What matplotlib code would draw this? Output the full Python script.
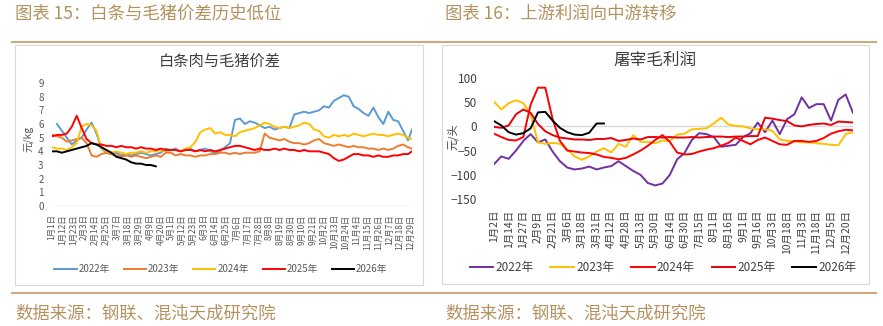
import numpy as np
import matplotlib.pyplot as plt
from matplotlib.patches import Rectangle
from matplotlib.lines import Line2D

plt.rcParams['font.family'] = ['Noto Sans CJK SC', 'DejaVu Sans']

# ---------- left chart: 白条肉与毛猪价差 (daily, sampled every 5 days) ----------
days = np.r_[np.arange(0, 365, 5), 364]

spread_2022 = [np.nan, 6.0, 5.5, 5.0, 4.5, 4.8, 5.0, 5.6, 6.1, 5.3,
               4.2, 3.9, 3.8, 3.9, 3.7, 3.8, 3.7, 3.8, 3.9, 3.8,
               3.7, 3.8, 3.9, 4.2, 4.1, 4.2, 4.0, 4.1, 4.2, 4.0,
               4.1, 4.2, 4.0, 3.9, 4.0, 4.3, 4.6, 6.3, 6.4, 6.0,
               6.2, 6.1, 5.9, 5.7, 5.8, 5.6, 5.7, 5.8, 5.7, 6.7,
               6.8, 6.9, 6.8, 6.9, 7.0, 7.3, 7.2, 7.7, 7.9, 8.1,
               8.0, 7.3, 7.1, 6.8, 6.6, 7.2, 6.5, 6.0, 6.9, 6.3,
               6.2, 5.5, 4.8, 5.6]
spread_2023 = [5.2, 5.1, 5.0, 4.7, 4.8, 4.9, 5.0, 4.6, 3.7, 3.6,
               3.8, 3.9, 3.8, 3.7, 3.6, 3.7, 3.6, 3.7, 3.6, 3.5,
               3.6, 3.7, 3.6, 3.9, 3.9, 3.7, 3.8, 3.7, 3.7, 3.6,
               3.7, 3.7, 3.8, 3.8, 3.9, 3.9, 3.8, 3.9, 3.8, 3.9,
               3.9, 3.9, 4.0, 5.3, 5.0, 4.9, 4.8, 4.9, 4.7, 4.6,
               4.6, 4.5, 4.6, 4.8, 4.9, 4.6, 4.5, 4.4, 4.5, 4.4,
               4.3, 4.4, 4.3, 4.3, 4.2, 4.2, 4.1, 4.2, 4.1, 4.2,
               4.4, 4.5, 4.3, 4.2]
spread_2024 = [4.3, 4.2, 4.2, 4.1, 4.3, 4.6, 5.8, 6.0, 5.9, 5.5,
               4.2, 4.0, 3.9, 4.0, 3.9, 3.8, 3.9, 3.9, 4.0, 3.9,
               4.0, 4.0, 4.1, 4.0, 4.1, 4.1, 4.0, 4.2, 4.3, 4.7,
               5.4, 5.6, 5.7, 5.3, 5.4, 5.2, 5.2, 5.1, 5.4, 5.5,
               5.6, 5.7, 5.9, 6.1, 6.0, 5.8, 5.7, 5.8, 5.7, 5.8,
               5.9, 6.1, 6.0, 5.6, 5.5, 5.1, 5.0, 5.2, 5.1, 5.2,
               5.1, 5.3, 5.2, 5.1, 5.2, 5.3, 5.2, 5.2, 5.1, 5.2,
               5.3, 5.2, 5.0, 4.9]
spread_2025 = [5.1, 5.2, 5.2, 5.3, 5.8, 6.6, 5.7, 4.9, 4.6, 4.5,
               4.5, 4.4, 4.4, 4.3, 4.4, 4.3, 4.3, 4.2, 4.3, 4.2,
               4.2, 4.1, 4.2, 4.1, 4.1, 4.1, 4.0, 4.1, 4.1, 4.0,
               4.1, 4.0, 4.1, 4.0, 4.1, 4.2, 4.3, 4.4, 4.4, 4.3,
               4.2, 4.1, 4.2, 4.1, 4.1, 4.2, 4.1, 4.2, 4.1, 4.1,
               4.0, 4.1, 4.0, 4.0, 4.0, 3.9, 3.8, 3.5, 3.3, 3.4,
               3.6, 3.8, 3.8, 3.7, 3.7, 3.6, 3.7, 3.6, 3.6, 3.7,
               3.7, 3.8, 3.8, 4.0]
spread_2026 = [4.0, 4.0, 3.9, 4.0, 4.1, 4.2, 4.3, 4.4, 4.6, 4.5,
               4.3, 4.1, 3.9, 3.6, 3.5, 3.4, 3.2, 3.1, 3.1, 3.0,
               3.0, 2.9]

left_ticks = ['1月1日', '1月12日', '1月23日', '2月3日', '2月14日', '2月25日',
              '3月7日', '3月18日', '3月29日', '4月9日', '4月20日', '5月1日',
              '5月12日', '5月23日', '6月3日', '6月14日', '6月25日', '7月6日',
              '7月17日', '7月28日', '8月8日', '8月19日', '8月30日', '9月10日',
              '9月21日', '10月2日', '10月13日', '10月24日', '11月4日', '11月15日',
              '11月26日', '12月7日', '12月18日', '12月29日']

# ---------- right chart: 屠宰毛利润 (weekly) ----------
profit_2022 = [-78, -62, -67, -50, -30, -16, -33, -27, -52, -72,
               -85, -89, -87, -83, -89, -85, -82, -72, -82, -92,
               -100, -117, -122, -118, -100, -68, -55, -28, -14, -16,
               -22, -42, -40, -38, -22, -14, 8, -12, 12, -16,
               15, 25, 60, 38, 46, 46, 12, 55, 66, 28]
profit_2023 = [51, 35, 48, 54, 48, 25, -33, -36, -34, -36,
               -48, -62, -69, -62, -52, -45, -54, -36, -42, -18,
               -32, -32, -35, -29, -30, -17, -15, -6, -5, -4,
               6, 18, 4, 1, 0, -4, -6, -6, -9, -27,
               -30, -31, -33, -33, -35, -36, -38, -39, -16, -12]
profit_2024 = [-15, -22, -28, -29, -22, 45, 80, 80, 15, -30,
               -50, -52, -54, -55, -58, -63, -65, -68, -65, -58,
               -50, -40, -28, -18, -32, -54, -58, -57, -52, -48,
               -45, -40, -34, -23, -30, -37, -28, -23, -30, -37,
               -38, -30, -30, -32, -30, -24, -15, -10, -7, -8]
profit_2025 = [-1, -3, 2, 25, 35, 28, 5, -10, -18, -23,
               -25, -27, -27, -28, -26, -26, -24, -30, -28, -25,
               -27, -22, -22, -23, -22, -23, -23, -22, -23, -22,
               -21, -21, -22, -21, -21, -20, -20, 18, 16, 13,
               11, 2, 0, 3, 5, 6, 3, 10, 9, 8]
profit_2026 = [11, 2, -12, -17, -14, -4, 29, 30, 12, -3,
               -12, -17, -18, -13, 6, 6]

right_ticks = ['1月2日', '1月14日', '1月27日', '2月9日', '2月21日', '3月6日',
               '3月18日', '3月31日', '4月12日', '4月28日', '5月13日', '5月30日',
               '6月14日', '6月30日', '7月15日', '8月1日', '8月16日', '9月1日',
               '9月16日', '10月3日', '10月18日', '11月3日', '11月18日', '12月5日',
               '12月20日']

W, H = 883, 326
fig = plt.figure(figsize=(W / 100, H / 100), dpi=100)


def fx(px):
    return px / W


def fy(py):
    return 1 - py / H


gold = '#b4925f'
gold_line = '#c9ab7c'

# header / footer
fig.text(fx(15), fy(14), '图表 15：白条与毛猪价差历史低位', fontsize=12.5,
         color=gold, va='center', ha='left')
fig.text(fx(445), fy(14), '图表 16：上游利润向中游转移', fontsize=12.5,
         color=gold, va='center', ha='left')
fig.text(fx(15), fy(314), '数据来源：钢联、混沌天成研究院', fontsize=12.5,
         color=gold, va='center', ha='left')
fig.text(fx(445), fy(314), '数据来源：钢联、混沌天成研究院', fontsize=12.5,
         color=gold, va='center', ha='left')
fig.add_artist(Line2D([fx(12), fx(876)], [fy(42), fy(42)], color=gold_line, lw=1.5))
fig.add_artist(Line2D([fx(12), fx(876)], [fy(293), fy(293)], color=gold_line, lw=1.5))

# panel frames
fig.add_artist(Rectangle((fx(15), fy(285)), fx(423) - fx(15), fy(45) - fy(285),
                         transform=fig.transFigure, fill=False, ec='#d9d9d9', lw=0.8))
fig.add_artist(Rectangle((fx(442), fy(284)), fx(869) - fx(442), fy(45) - fy(284),
                         transform=fig.transFigure, fill=False, ec='#d9d9d9', lw=0.8))

# ----- left axes -----
ax1 = fig.add_axes([fx(52), fy(206), fx(412) - fx(52), fy(83) - fy(206)])
left_colors = ['#5b9bd5', '#ed7d31', '#ffc000', '#ff0000', '#000000']
left_series = [spread_2022, spread_2023, spread_2024, spread_2025]
labels = ['2022年', '2023年', '2024年', '2025年', '2026年']
for s, c, lab in zip(left_series, left_colors, labels):
    ax1.plot(days, s, color=c, lw=1.4, label=lab)
ax1.plot(days[:len(spread_2026)], spread_2026, color=left_colors[4], lw=1.4, label=labels[4])
ax1.set_xlim(0, 364)
ax1.set_ylim(0, 9)
ax1.set_yticks(range(10))
ax1.set_xticks(np.arange(0, 364, 11))
ax1.set_xticklabels(left_ticks, rotation=90, fontsize=6, color='#595959')
ax1.tick_params(axis='y', labelsize=7, colors='#595959', length=0, pad=6)
ax1.tick_params(axis='x', length=0, pad=6)
for sp in ax1.spines.values():
    sp.set_visible(False)
ax1.axhline(0, color='#d9d9d9', lw=1)
ax1.patch.set_alpha(0)
fig.text(fx(28), fy(139), '元/kg', rotation=90, fontsize=7.5, color='#595959',
         ha='center', va='center')
fig.text(fx(220), fy(61), '白条肉与毛猪价差', fontsize=11, color='#404040',
         ha='center', va='center')
h1, l1 = ax1.get_legend_handles_labels()
fig.legend(h1, l1, loc='center', bbox_to_anchor=(fx(221), fy(269)), ncol=5,
           frameon=False, fontsize=7, handlelength=2.3, handletextpad=0.2,
           columnspacing=1.4, labelcolor='#595959')

# ----- right axes -----
ax2 = fig.add_axes([fx(494), fy(199), fx(853) - fx(494), fy(78) - fy(199)])
weeks = np.arange(len(profit_2022))
right_colors = ['#7030a0', '#ffc000', '#ff0000', '#e8000b', '#000000']
right_series = [profit_2022, profit_2023, profit_2024, profit_2025]
ax2.axhline(0, color='#d9d9d9', lw=1, zorder=0)
for s, c, lab in zip(right_series, right_colors, labels):
    ax2.plot(weeks, s, color=c, lw=1.4, label=lab)
ax2.plot(weeks[:len(profit_2026)], profit_2026, color=right_colors[4], lw=1.4, label=labels[4])
ax2.set_xlim(0, 49)
ax2.set_ylim(-150, 100)
ax2.set_yticks([-150, -100, -50, 0, 50, 100])
ax2.set_xticks(weeks[::2])
ax2.set_xticklabels(right_ticks, rotation=90, fontsize=7.5, color='#404040')
ax2.tick_params(axis='y', labelsize=8.5, colors='#404040', length=0, pad=12)
ax2.tick_params(axis='x', length=0, pad=8)
for sp in ax2.spines.values():
    sp.set_visible(False)
ax2.patch.set_alpha(0)
fig.text(fx(453), fy(137), '元/头', rotation=90, fontsize=8, color='#404040',
         ha='center', va='center')
fig.text(fx(655), fy(60), '屠宰毛利润', fontsize=12, color='#404040',
         ha='center', va='center')
h2, l2 = ax2.get_legend_handles_labels()
fig.legend(h2, l2, loc='center', bbox_to_anchor=(fx(663), fy(268)), ncol=5,
           frameon=False, fontsize=8.5, handlelength=2.0, handletextpad=0.2,
           columnspacing=1.4, labelcolor='#404040')

fig.savefig('out.png', dpi=100)
